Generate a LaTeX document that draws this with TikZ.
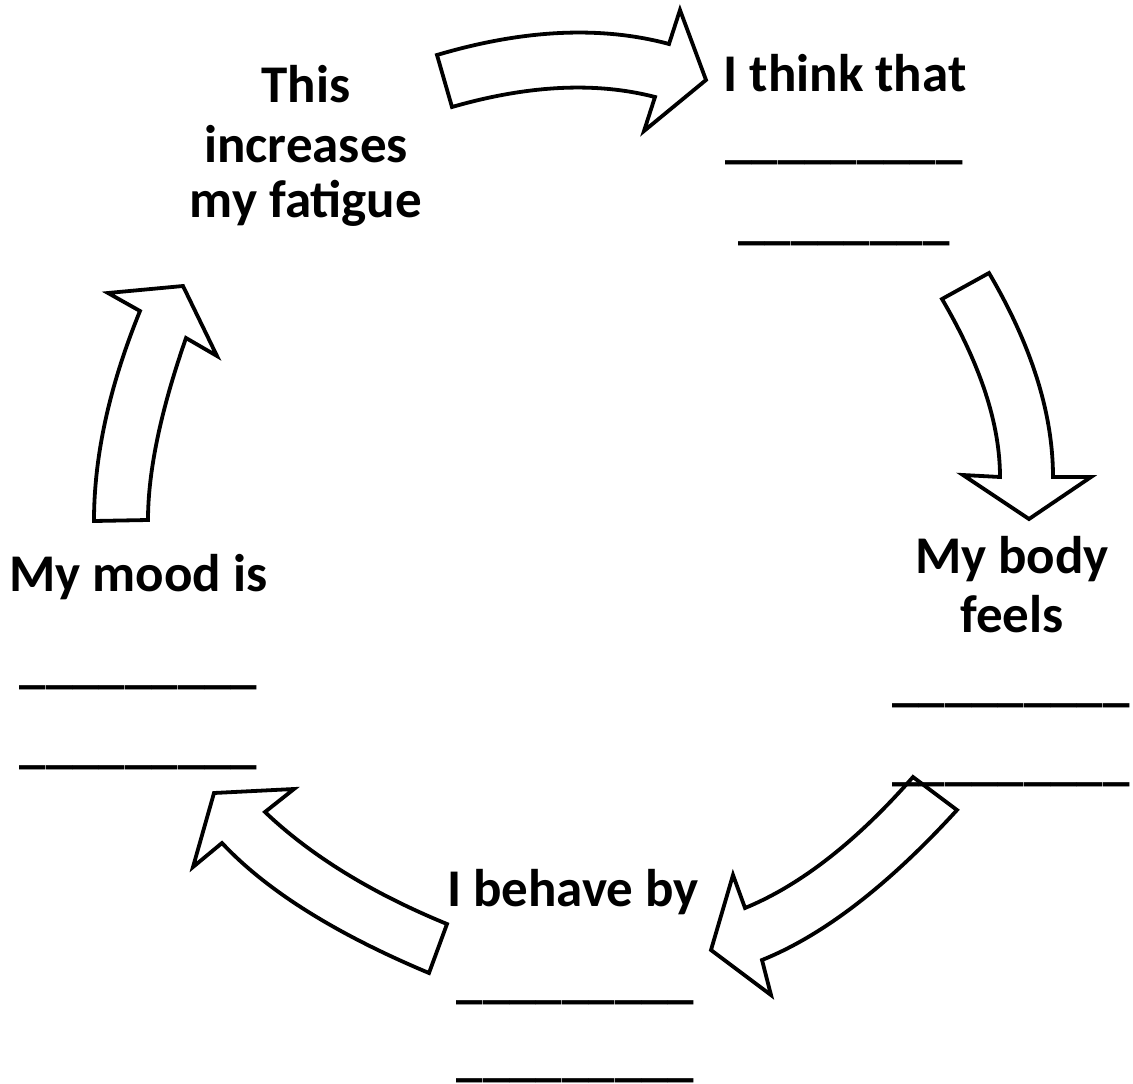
\documentclass[tikz,border=0pt]{standalone}
\usepackage{fontspec}
\setmainfont{Carlito}
\begin{document}
\begin{tikzpicture}[x=1pt,y=-1pt,
  lbl/.style={anchor=base,inner sep=0pt,font=\fontsize{53}{58}\selectfont\bfseries},
  blank/.style={anchor=base,inner sep=0pt,text depth=0pt,font=\fontsize{53}{58}\selectfont\bfseries},
  bentarrow/.style={draw=black,line width=3.8pt,line join=miter,miter limit=10}]
\useasboundingbox (0,0) rectangle (1133,1084);

% labels
\node[lbl] (fatA) at (306,102) {This};
\node[lbl] (fatB) at (306,162) {increases};
\node[lbl] (fatC) at (306,217) {my fatigue};

\node[lbl] (think) at (845,91) {I think that};
\node[blank] (thinkA) at (844,157) {\_\_\_\_\_\_\_\_\_};
\node[blank] (thinkB) at (844,238) {\_\_\_\_\_\_\_\_};

\node[lbl] (bodyA) at (1012,573) {My body};
\node[lbl] (bodyB) at (1012,632) {feels};
\node[blank] (bodyC) at (1011,700) {\_\_\_\_\_\_\_\_\_};
\node[blank] (bodyD) at (1011,779) {\_\_\_\_\_\_\_\_\_};

\node[lbl] (mood) at (138.5,591) {My mood is};
\node[blank] (moodA) at (138.5,682) {\_\_\_\_\_\_\_\_\_};
\node[blank] (moodB) at (138.5,762) {\_\_\_\_\_\_\_\_\_};

\node[lbl] (behave) at (573,906) {I behave by};
\node[blank] (behaveA) at (575.5,997) {\_\_\_\_\_\_\_\_\_};
\node[blank] (behaveB) at (575.5,1075) {\_\_\_\_\_\_\_\_\_};

% curved block arrows around the cycle
% top: towards "I think that"
\draw[bentarrow] (437,55) .. controls (523.7,29.3) and (601,25.7) .. (669,44)
  -- (680,10) -- (706,80) -- (644,131) -- (655,97)
  .. controls (596,81.7) and (528.3,85) .. (452,107) -- cycle;
% right: down towards "My body feels"
\draw[bentarrow] (989,273) .. controls (1031.7,345.7) and (1053,413.7) .. (1053,477)
  -- (1091,477) -- (1029,519) -- (963,475) -- (1000,477)
  .. controls (1000,424.3) and (980.7,365) .. (942,299) -- cycle;
% lower right: towards "I behave by"
\draw[bentarrow] (957,810) .. controls (888.3,885.3) and (823.3,935.3) .. (762,960)
  -- (771,995) -- (711,950) -- (733,875) -- (745,908)
  .. controls (800.3,885.3) and (856.3,841.7) .. (913,777) -- cycle;
% lower left: towards "My mood is"
\draw[bentarrow] (447,924) .. controls (371.7,893.1) and (311,855.8) .. (265,812)
  -- (294,789) -- (214,793) -- (193,867) -- (222,843)
  .. controls (266.2,890.3) and (335.2,933.7) .. (429,973) -- cycle;
% left: up towards "This increases my fatigue"
\draw[bentarrow] (94,521) .. controls (94,456.3) and (109.3,386.3) .. (140,311)
  -- (108,293) -- (183,286) -- (217,356) -- (186,338)
  .. controls (160.7,410.7) and (148,471.3) .. (148,520) -- cycle;
\end{tikzpicture}
\end{document}
